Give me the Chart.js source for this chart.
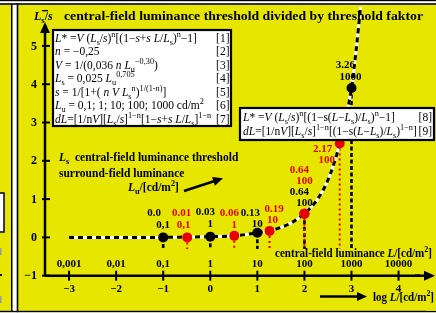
<!DOCTYPE html>
<html>
<head>
<meta charset="utf-8">
<script src="https://cdn.jsdelivr.net/npm/chart.js@4/dist/chart.umd.min.js"></script>
<style>
  html, body { margin: 0; padding: 0; background: #fff; overflow: hidden; }
  canvas { display: block; }
</style>
</head>
<body>
<canvas id="chartLs" width="436" height="313"></canvas>
<script>
// curve L_s/s over log L
const curveLogL = [-3, -2, -1, -0.5, 0, 0.5, 1, 1.25, 1.5, 1.75, 2, 2.25, 2.5, 2.75, 3, 3.1, 3.2];
const curveY = [0, 0, 0, 0.01, 0.02, 0.04, 0.12, 0.17, 0.26, 0.4, 0.62, 0.95, 1.5, 2.45, 3.9, 4.9, 6.1];

// black points (L = Lu)
const blackLogL = [-1, 0, 1, 2, 3];
const blackY = [0, 0.02, 0.12, 0.62, 3.9];
const blackVal = ['0.0', '0.03', '0.13', '0.64', '3.26'];
const blackLu = ['0,1', '1', '10', '100', '1000'];

// red points
const redLogL = [-0.49, 0.51, 1.26, 2, 2.75];
const redY = [0, 0.04, 0.17, 0.62, 2.45];
const redVal = ['0.01', '0.06', '0.19', '0.64', '2.17'];
const redLu = ['0,1', '1', '10', '100', '100'];

// axes
const xTicks = [-3, -2, -1, 0, 1, 2, 3, 4];
const xTickLabels = ['\u22123', '\u22122', '\u22121', '0', '1', '2', '3', '4'];
const xLumLabels = ['0,001', '0,01', '0,1', '1', '10', '100', '1000', '10000'];
const yTicks = [-1, 0, 1, 2, 3, 4, 5];
const yTickLabels = ['\u22121', '0', '1', '2', '3', '4', '5'];

const YEL = 'rgb(230,230,0)';
const RED = 'rgb(232,0,0)';
const SERIF = '"Liberation Serif", "DejaVu Serif", serif';

function rich(ctx, x, y, parts, size, bold, dry) {
    let cx = x;
    for (const [t, f] of parts) {
        const small = f.includes('b') || f.includes('p');
        const s = small ? size * 0.72 : size;
        ctx.font = (f.includes('i') ? 'italic ' : '') + (bold ? 'bold ' : '') + s + 'px ' + SERIF;
        const dy = f.includes('b') ? size * 0.28 : (f.includes('p') ? -size * 0.4 : 0);
        if (!dry) ctx.fillText(t, cx, y + dy);
        cx += ctx.measureText(t).width;
    }
    return cx;
}

// rich text stretched to a given width
function richFit(ctx, x, y, parts, size, bold, width) {
    const w = rich(ctx, 0, 0, parts, size, bold, true);
    ctx.save();
    ctx.translate(x, y);
    ctx.scale(width / w, 1);
    rich(ctx, 0, 0, parts, size, bold);
    ctx.restore();
}

function arrow(ctx, x1, y1, x2, y2, w, head) {
    const a = Math.atan2(y2 - y1, x2 - x1);
    ctx.lineWidth = w;
    ctx.beginPath();
    ctx.moveTo(x1, y1);
    ctx.lineTo(x2 - Math.cos(a) * head * 0.8, y2 - Math.sin(a) * head * 0.8);
    ctx.stroke();
    ctx.beginPath();
    ctx.moveTo(x2, y2);
    ctx.lineTo(x2 - head * Math.cos(a) + head * 0.45 * Math.sin(a), y2 - head * Math.sin(a) - head * 0.45 * Math.cos(a));
    ctx.lineTo(x2 - head * Math.cos(a) - head * 0.45 * Math.sin(a), y2 - head * Math.sin(a) + head * 0.45 * Math.cos(a));
    ctx.closePath();
    ctx.fill();
}

const fondo = {
    id: 'fondo',
    beforeDraw(chart) {
        const ctx = chart.ctx;
        ctx.save();
        ctx.fillStyle = '#fff';
        ctx.fillRect(0, 0, 436, 313);
        // left neighbour panel
        ctx.fillStyle = YEL;
        ctx.fillRect(0, 5, 11, 306);
        ctx.fillStyle = '#fff';
        ctx.fillRect(0, 193, 4, 39);
        ctx.strokeStyle = '#000';
        ctx.lineWidth = 1.5;
        ctx.strokeRect(-2, 193, 6, 39);
        ctx.fillStyle = '#000';
        ctx.fillRect(0, 274, 2, 2);
        ctx.fillStyle = '#999';
        ctx.fillRect(0, 248, 1.5, 7);
        ctx.fillRect(0, 296, 1.5, 7);
        ctx.fillStyle = '#000';
        ctx.fillRect(11, 4, 1.5, 308);
        // main panel
        ctx.fillStyle = YEL;
        ctx.fillRect(18, 5, 418, 306);
        ctx.fillStyle = '#000';
        ctx.fillRect(0, 0, 436, 1.2);
        ctx.fillRect(0, 3.2, 436, 1.6);
        ctx.fillRect(16.7, 3.2, 1.6, 309);
        ctx.fillRect(0, 310.8, 436, 1.4);
        ctx.restore();
    },
    beforeDatasetsDraw(chart) {
        const ctx = chart.ctx;
        const x = chart.scales.x, y = chart.scales.y;
        ctx.save();
        const yEnd = y.getPixelForValue(-0.3);
        ctx.lineCap = 'butt';
        blackLogL.forEach((v, i) => {
            ctx.strokeStyle = '#000';
            ctx.lineWidth = 2.6;
            ctx.setLineDash([4, 2.5]);
            ctx.beginPath();
            ctx.moveTo(x.getPixelForValue(v), y.getPixelForValue(blackY[i]));
            ctx.lineTo(x.getPixelForValue(v), yEnd);
            ctx.stroke();
        });
        redLogL.forEach((v, i) => {
            ctx.strokeStyle = RED;
            ctx.lineWidth = 2;
            ctx.setLineDash([2, 3]);
            ctx.beginPath();
            ctx.moveTo(x.getPixelForValue(v), y.getPixelForValue(redY[i]));
            ctx.lineTo(x.getPixelForValue(v), yEnd);
            ctx.stroke();
        });
        ctx.restore();
    },
    afterDatasetsDraw(chart) {
        const ctx = chart.ctx;
        const x = chart.scales.x, y = chart.scales.y;
        const area = chart.chartArea;
        ctx.save();
        ctx.fillStyle = '#000';
        ctx.strokeStyle = '#000';

        // y axis
        const x0 = area.left;
        const yBot = y.getPixelForValue(-1);
        arrow(ctx, x0, yBot, x0, 22, 2.5, 11);
        ctx.lineWidth = 2;
        ctx.font = 'bold 12px ' + SERIF;
        ctx.textAlign = 'right';
        ctx.textBaseline = 'middle';
        yTicks.forEach((v, i) => {
            const py = y.getPixelForValue(v);
            ctx.beginPath();
            ctx.moveTo(x0 - 3, py);
            ctx.lineTo(x0 + 5, py);
            ctx.stroke();
            ctx.fillText(yTickLabels[i], x0 - 8, py + 0.5);
        });

        // x axis ticks
        ctx.textAlign = 'center';
        ctx.font = 'bold 11px ' + SERIF;
        ctx.lineWidth = 2.5;
        ctx.beginPath();
        ctx.moveTo(x0, yBot);
        ctx.lineTo(420, yBot);
        ctx.stroke();
        xTicks.forEach((v, i) => {
            const px = x.getPixelForValue(v);
            ctx.lineWidth = 2;
            ctx.beginPath();
            ctx.moveTo(px, yBot - 5);
            ctx.lineTo(px, yBot + 5);
            ctx.stroke();
            ctx.fillText(xTickLabels[i], px, yBot + 13);
            ctx.fillText(xLumLabels[i], px, yBot - 12);
        });

        // title
        ctx.textAlign = 'left';
        ctx.textBaseline = 'alphabetic';
        rich(ctx, 34, 19.5, [['L', 'i'], ['s', 'b'], ['/', ''], ['s', 'i']], 12, true);
        ctx.fillRect(42, 10, 6, 1.3);
        richFit(ctx, 64, 19.5, [['central-field luminance threshold divided by threshold faktor', '']], 11.5, true, 359);

        // annotation
        rich(ctx, 59, 161, [['L', 'i'], ['s', 'b'], ['  central-field luminance threshold', '']], 11.5, true);
        rich(ctx, 59, 176.5, [['surround-field luminance', '']], 11.5, true);
        rich(ctx, 128, 191, [['L', 'i'], ['u', 'b'], ['/[cd/m', ''], ['2', 'p'], [']', '']], 11.5, true);
        arrow(ctx, 184, 191, 223, 178.3, 2.5, 10);

        // point labels
        ctx.font = 'bold 11px ' + SERIF;
        ctx.textAlign = 'center';
        ctx.textBaseline = 'middle';
        const bOff = [[-9, -24.5, 0, -12.5], [-5, -24, 0, -12], [-7, -20, 0, -8.5], [-5, -22, 0, -11], [-6, -23, -1, -11]];
        const rOff = [[-5.5, -24.5, -3.5, -12.5], [-5, -23, 0, -11], [4.5, -22, 3, -11], [-5, -44, 0, -33], [-17, 6, -13, 17]];
        ctx.fillStyle = '#000';
        blackLogL.forEach((v, i) => {
            const px = x.getPixelForValue(v), py = y.getPixelForValue(blackY[i]);
            const o = bOff[i];
            ctx.fillText(blackVal[i], px + o[0], py + o[1]);
            ctx.fillText(blackLu[i], px + o[2], py + o[3]);
        });
        ctx.fillStyle = RED;
        redLogL.forEach((v, i) => {
            const px = x.getPixelForValue(v), py = y.getPixelForValue(redY[i]);
            const o = rOff[i];
            ctx.fillText(redVal[i], px + o[0], py + o[1]);
            ctx.fillText(redLu[i], px + o[2], py + o[3]);
        });
        ctx.restore();
    },
    afterDraw(chart) {
        const ctx = chart.ctx;
        const y = chart.scales.y;
        const yBot = y.getPixelForValue(-1);
        ctx.save();
        // clean right margin strip
        ctx.fillStyle = YEL;
        ctx.fillRect(426, 5, 10, 305.8);
        ctx.fillStyle = '#000';
        ctx.strokeStyle = '#000';
        arrow(ctx, 415, yBot, 435, yBot, 2.5, 11);
        ctx.textBaseline = 'alphabetic';
        ctx.textAlign = 'left';
        arrow(ctx, 320, 296.5, 367, 296.5, 2.5, 10);
        richFit(ctx, 373, 300.5, [['log ', ''], ['L', 'i'], ['/[cd/m', ''], ['2', 'p'], [']', '']], 11.5, true, 61);
        richFit(ctx, 275, 257, [['central-field luminance ', ''], ['L', 'i'], ['/[cd/m', ''], ['2', 'p'], [']', '']], 11.5, true, 157);

        // formula box 1
        ctx.fillStyle = '#fff';
        ctx.fillRect(53, 30, 178, 96);
        ctx.lineWidth = 2.2;
        ctx.strokeRect(53, 30, 178, 96);
        ctx.fillStyle = '#000';
        const fs = 11.5;
        const rows = [
            [['L', 'i'], ['* =', ''], ['V', 'i'], [' (', ''], ['L', 'i'], ['s', 'b'], ['/', ''], ['s', 'i'], [')', ''], ['n', 'p'], ['[(1\u2212', ''], ['s', 'i'], ['+', ''], ['s', 'i'], [' ', ''], ['L', 'i'], ['/', ''], ['L', 'i'], ['s', 'b'], [')', ''], ['n', 'p'], ['\u22121]', '']],
            [['n', 'i'], [' = \u22120,25', '']],
            [['V', 'i'], [' = 1/(0,036 ', ''], ['n', 'i'], [' ', ''], ['L', 'i'], ['u', 'b'], ['\u22120,30', 'p'], [')', '']],
            [['L', 'i'], ['s', 'b'], [' = 0,025 ', ''], ['L', 'i'], ['u', 'b'], ['0,705', 'p']],
            [['s', 'i'], [' = 1/[1+( ', ''], ['n', 'i'], [' ', ''], ['V', 'i'], [' ', ''], ['L', 'i'], ['s', 'b'], ['n', 'p'], [')', ''], ['1/(1-', 'p'], ['n', 'pi'], [')', 'p'], [']', '']],
            [['L', 'i'], ['u', 'b'], [' = 0,1; 1; 10; 100; 1000 cd/m', ''], ['2', 'p']],
            [['dL', 'i'], ['=[1/n', ''], ['V', 'i'], ['][', ''], ['L', 'i'], ['s', 'b'], ['/', ''], ['s', 'i'], [']', ''], ['1\u2212n', 'p'], ['[1\u2212', ''], ['s', 'i'], ['+', ''], ['s', 'i'], [' ', ''], ['L', 'i'], ['/', ''], ['L', 'i'], ['s', 'b'], [']', ''], ['1\u2212n', 'p']]
        ];
        rows.forEach((r, i) => {
            const by = 41.5 + i * 13.5;
            rich(ctx, 55, by, r, fs, false);
            ctx.font = fs + 'px ' + SERIF;
            ctx.textAlign = 'right';
            ctx.fillText('[' + (i + 1) + ']', 229.5, by);
            ctx.textAlign = 'left';
        });

        // formula box 2
        ctx.fillStyle = '#fff';
        ctx.fillRect(240, 108, 194, 32);
        ctx.strokeRect(240, 108, 194, 32);
        ctx.fillStyle = '#000';
        const rows2 = [
            [['L', 'i'], ['* =', ''], ['V', 'i'], [' (', ''], ['L', 'i'], ['s', 'b'], ['/', ''], ['s', 'i'], [')', ''], ['n', 'p'], ['[(1\u2212s(', ''], ['L', 'i'], ['\u2212', ''], ['L', 'i'], ['s', 'b'], [')/', ''], ['L', 'i'], ['s', 'b'], [')', ''], ['n', 'p'], ['\u22121]', '']],
            [['dL', 'i'], ['=[1/n', ''], ['V', 'i'], ['][', ''], ['L', 'i'], ['s', 'b'], ['/', ''], ['s', 'i'], [']', ''], ['1\u2212n', 'p'], ['[(1\u2212s(', ''], ['L', 'i'], ['\u2212', ''], ['L', 'i'], ['s', 'b'], [')/', ''], ['L', 'i'], ['s', 'b'], [')', ''], ['1\u2212n', 'p'], [']', '']]
        ];
        rows2.forEach((r, i) => {
            const by = 120.5 + i * 14.3;
            rich(ctx, 243, by, r, fs, false);
            ctx.font = fs + 'px ' + SERIF;
            ctx.textAlign = 'right';
            ctx.fillText('[' + (i + 8) + ']', 432, by);
            ctx.textAlign = 'left';
        });
        ctx.restore();
    }
};

const ctx = document.getElementById('chartLs').getContext('2d');
const curve = curveLogL.map((v, i) => ({ x: v, y: curveY[i] }));

new Chart(ctx, {
    type: 'scatter',
    data: {
        datasets: [{
            data: curve,
            showLine: true,
            borderColor: '#fff',
            borderWidth: 3,
            pointRadius: 0,
            cubicInterpolationMode: 'monotone',
            order: 4
        }, {
            data: curve,
            showLine: true,
            borderColor: '#000',
            borderWidth: 3,
            borderDash: [5, 4],
            pointRadius: 0,
            cubicInterpolationMode: 'monotone',
            order: 3
        }, {
            data: blackLogL.map((v, i) => ({ x: v, y: blackY[i] })),
            pointRadius: 5,
            pointBackgroundColor: '#000',
            pointBorderColor: '#000',
            pointBorderWidth: 0,
            order: 2
        }, {
            data: redLogL.map((v, i) => ({ x: v, y: redY[i] })),
            pointRadius: 5,
            pointBackgroundColor: RED,
            pointBorderColor: RED,
            pointBorderWidth: 0,
            order: 1
        }]
    },
    options: {
        responsive: false,
        animation: false,
        devicePixelRatio: 1,
        layout: { padding: { left: 45, right: 4, top: 7, bottom: 37.3 } },
        plugins: {
            legend: { display: false },
            tooltip: { enabled: false }
        },
        scales: {
            x: { type: 'linear', display: false, min: -3.511, max: 4.689 },
            y: { type: 'linear', display: false, min: -1, max: 6.016 }
        }
    },
    plugins: [fondo]
});
</script>
</body>
</html>
